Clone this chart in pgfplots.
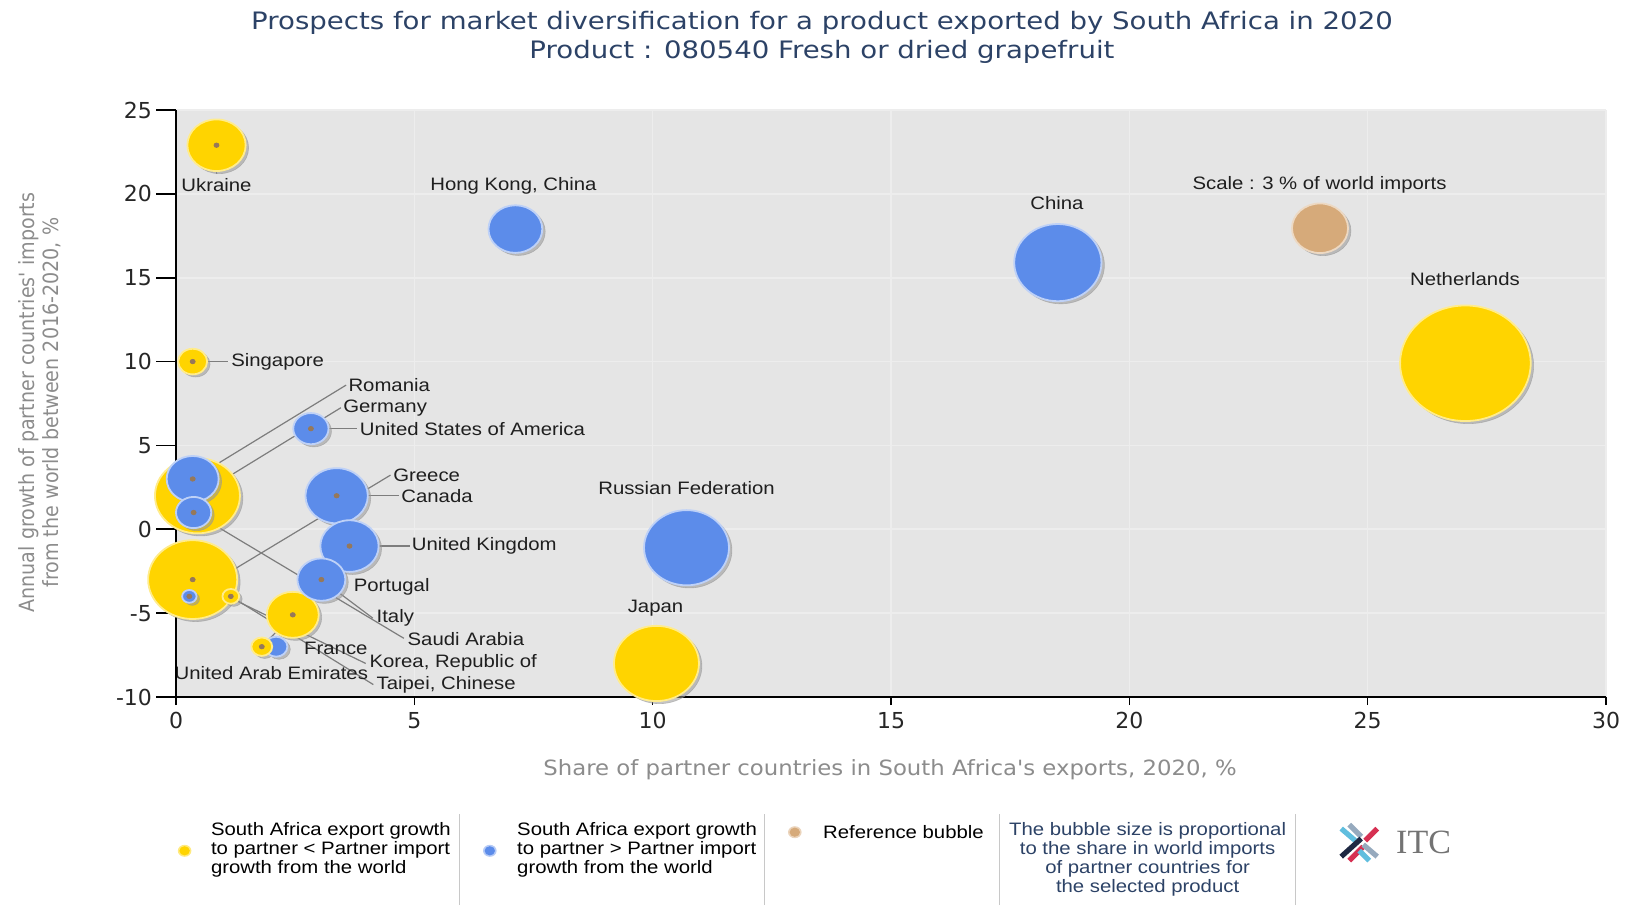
\documentclass[border=0pt]{standalone}
\usepackage{pgfplots}
\pgfplotsset{compat=1.18}
\usepackage{pgfplotstable}
\usepackage{fontspec}
\setmainfont[FakeStretch=1.13]{Liberation Sans}
\newfontfamily\tfont{DejaVu Sans}
\newfontfamily\ttlfont[FakeStretch=1.15]{DejaVu Sans}
\newfontfamily\xfont[FakeStretch=1.085]{DejaVu Sans}
\newfontfamily\yfont[FakeStretch=0.91]{DejaVu Sans}
\newfontfamily\seriffont{Liberation Serif}

\definecolor{byel}{RGB}{255,212,0}
\definecolor{bblue}{RGB}{92,140,234}
\definecolor{btan}{RGB}{214,170,122}
\definecolor{plotbg}{RGB}{229,229,229}
\definecolor{gridc}{RGB}{237,237,237}
\definecolor{titlec}{RGB}{44,66,102}
\definecolor{axlab}{RGB}{140,140,140}
\definecolor{leader}{RGB}{125,125,125}
\definecolor{dotc}{RGB}{150,120,90}
\definecolor{sepc}{RGB}{200,200,200}
\definecolor{shadc}{RGB}{150,150,150}
\definecolor{itcblue}{RGB}{96,190,222}
\definecolor{itcred}{RGB}{214,48,82}
\definecolor{itcnavy}{RGB}{30,40,66}
\definecolor{itcgray}{RGB}{150,170,190}

% x y r(pt, vertical radius) class
\pgfplotstableread{
x y r c
27.05 9.9 28.9 y
0.35 -3.0 19.7 y
18.5 15.9 19.3 b
0.45 2.0 18.8 y
10.71 -1.1 18.8 b
10.08 -8.0 18.8 y
}\bubA
\pgfplotstableread{
x y r c
3.37 2.0 13.8 b
0.85 22.9 12.9 y
3.64 -1.0 12.9 b
24.0 17.95 12.4 r
7.12 17.9 11.9 b
0.35 3.0 11.5 b
2.45 -5.1 11.5 y
3.05 -3.0 10.6 b
}\bubB
\pgfplotstableread{
x y r c
2.83 6.0 7.8 b
0.37 1.0 7.8 b
0.35 10.0 6.4 y
2.1 -7.0 5.0 b
1.8 -7.0 4.6 y
1.15 -4.0 3.7 y
0.28 -4.0 3.2 b
}\bubC
\pgfplotstableread{
x y
0.35 -3.0
0.45 2.0
}\dotA
\pgfplotstableread{
x y
3.37 2.0
0.85 22.9
3.64 -1.0
0.35 3.0
2.45 -5.1
3.05 -3.0
}\dotB
\pgfplotstableread{
x y
2.83 6.0
0.37 1.0
0.35 10.0
1.8 -7.0
1.15 -4.0
0.28 -4.0
}\dotC

\pgfplotsset{
  bubble/.style={only marks, scatter, scatter src=explicit symbolic,
    scatter/classes={
      y={mark=*, draw=byel!45!white, fill=byel},
      b={mark=*, draw=bblue!40!white, fill=bblue},
      r={mark=*, draw=btan!45!white, fill=btan}},
    visualization depends on={\thisrow{r} \as \rad},
    scatter/@pre marker code/.append style={/tikz/mark size=\rad},
    mark options={xscale=1.13, line width=0.9pt}},
  shadow/.style={only marks, scatter, point meta=\thisrow{r},
    scatter/use mapped color={draw=shadc, fill=shadc},
    visualization depends on={\thisrow{r} \as \rad},
    scatter/@pre marker code/.append style={/tikz/mark size=\rad},
    mark=*, mark options={xscale=1.13, xshift=1.3pt, yshift=-1.3pt, opacity=0.55, line width=0.3pt}},
  cdot/.style={only marks, mark=*, mark size=1.1pt, color=dotc, mark options={xscale=1.13}},
}
\tikzset{
  ld/.style={draw=leader, line width=0.6pt},
  lab/.style={font=\fontsize{9}{10}\selectfont, text=black!88, inner sep=0.5pt},
}

\begin{document}
\begin{tikzpicture}
\useasboundingbox (0,0) rectangle (813.5pt,453.5pt);
% title
\node[font=\ttlfont\fontsize{12}{14.5}\selectfont, text=titlec, align=center] at (411pt,434.8pt)
  {Prospects for market diversification for a product exported by South Africa in 2020\\Product : 080540 Fresh or dried grapefruit};
\begin{axis}[
  at={(88pt,105pt)}, anchor=south west,
  width=715pt, height=293.5pt, scale only axis,
  xmin=0, xmax=30, ymin=-10, ymax=25,
  xtick={0,5,...,30}, ytick={-10,-5,...,25},
  axis x line*=bottom, axis y line*=left,
  axis line style={black, line width=0.8pt, -},
  tick align=outside,
  major tick length=4pt,
  ytick style={black, line width=0.8pt, /pgfplots/major tick length=10pt},
  xtick style={black, line width=0.8pt},
  yticklabel style={xshift=-4.5pt},
  tick label style={font=\tfont\fontsize{11}{13}\selectfont, text=black!85},
  /pgf/number format/assume math mode=true,
  grid=major, major grid style={gridc, line width=0.8pt},
  axis background/.style={fill=plotbg},
  clip=false,
]
% group A (largest)
\addplot[shadow] table[x=x,y=y] {\bubA};
\addplot[bubble] table[x=x,y=y,meta=c] {\bubA};
\draw[ld] (axis cs:0.35,-3.0) -- (axis cs:3.98,-8.0);
\draw[ld] (axis cs:0.45,2.0) -- (axis cs:3.46,7.25);
\addplot[cdot] table[x=x,y=y] {\dotA};
% group B
\addplot[shadow] table[x=x,y=y] {\bubB};
\addplot[bubble] table[x=x,y=y,meta=c] {\bubB};
\draw[ld] (axis cs:3.37,2.0) -- (axis cs:4.68,2.0);
\draw[ld] (axis cs:0.85,22.9) -- (axis cs:0.85,21.2);
\draw[ld] (axis cs:3.64,-1.0) -- (axis cs:4.9,-1.0);
\draw[ld] (axis cs:0.35,3.0) -- (axis cs:3.57,8.6);
\draw[ld] (axis cs:3.05,-3.0) -- (axis cs:4.13,-5.3);
\addplot[cdot] table[x=x,y=y] {\dotB};
% group C
\addplot[shadow] table[x=x,y=y] {\bubC};
\addplot[bubble] table[x=x,y=y,meta=c] {\bubC};
\draw[ld] (axis cs:2.83,6.0) -- (axis cs:3.8,6.0);
\draw[ld] (axis cs:0.37,1.0) -- (axis cs:4.78,-6.5);
\draw[ld] (axis cs:0.35,10.0) -- (axis cs:1.1,10.0);
\draw[ld] (axis cs:1.8,-7.0) -- (axis cs:2.45,-5.1);
\draw[ld] (axis cs:1.15,-4.0) -- (axis cs:4.14,-9.26);
\draw[ld] (axis cs:0.28,-4.0) -- (axis cs:4.5,3.23);
\addplot[cdot] table[x=x,y=y] {\dotC};
% labels
\node[lab] at (axis cs:0.85,20.55) {Ukraine};
\node[lab] at (axis cs:7.08,20.45) {Hong Kong, China};
\node[lab] at (axis cs:18.48,19.45) {China};
\node[lab] at (axis cs:23.99,20.55) {Scale : 3 \% of world imports};
\node[lab] at (axis cs:27.04,14.9) {Netherlands};
\node[lab] at (axis cs:10.71,2.45) {Russian Federation};
\node[lab] at (axis cs:10.06,-4.7) {Japan};
\node[lab,anchor=west] at (axis cs:1.13,10.0) {Singapore};
\node[lab,anchor=west] at (axis cs:3.59,8.6) {Romania};
\node[lab,anchor=west] at (axis cs:3.48,7.25) {Germany};
\node[lab,anchor=west] at (axis cs:3.83,6.0) {United States of America};
\node[lab,anchor=west] at (axis cs:4.53,3.23) {Greece};
\node[lab,anchor=west] at (axis cs:4.70,2.0) {Canada};
\node[lab,anchor=west] at (axis cs:4.92,-0.97) {United Kingdom};
\node[lab,anchor=west] at (axis cs:3.70,-3.45) {Portugal};
\node[lab,anchor=west] at (axis cs:4.18,-5.3) {Italy};
\node[lab,anchor=west] at (axis cs:4.83,-6.54) {Saudi Arabia};
\node[lab,anchor=west] at (axis cs:2.66,-7.1) {France};
\node[lab,anchor=west] at (axis cs:4.03,-7.96) {Korea, Republic of};
\node[lab,anchor=west] at (axis cs:4.18,-9.26) {Taipei, Chinese};
\node[lab] at (axis cs:2.0,-8.58) {United Arab Emirates};
% axis lines on top of bubbles
\draw[black, line width=0.8pt] (rel axis cs:0,0) -- (rel axis cs:0,1);
\draw[black, line width=0.8pt] (rel axis cs:0,0) -- (rel axis cs:1,0);
\end{axis}
% axis titles
\node[font=\xfont\fontsize{10.5}{12}\selectfont, text=axlab] at (445pt,68.5pt)
  {Share of partner countries in South Africa's exports, 2020, \%};
\node[font=\yfont\fontsize{10.5}{12}\selectfont, text=axlab, align=center, rotate=90] at (19.7pt,252.2pt)
  {Annual growth of partner countries' imports\\from the world between 2016-2020, \%};
% legend
\begin{scope}[font=\fontsize{9}{9.6}\selectfont]
\fill[byel!50!white] (92.3pt,28.1pt) ellipse (3.4pt and 3pt);
\fill[byel] (92.3pt,28.1pt) ellipse (2.6pt and 2.3pt);
\node[anchor=west, align=left, inner sep=0pt] at (105.3pt,28.6pt)
  {South Africa export growth\\to partner < Partner import\\growth from the world};
\draw[sepc, line width=0.5pt] (229.8pt,1pt) -- (229.8pt,46.3pt);
\fill[bblue!45!white] (244.9pt,28.1pt) ellipse (3.4pt and 3pt);
\fill[bblue] (244.9pt,28.1pt) ellipse (2.6pt and 2.3pt);
\node[anchor=west, align=left, inner sep=0pt] at (258.4pt,28.6pt)
  {South Africa export growth\\to partner > Partner import\\growth from the world};
\draw[sepc, line width=0.5pt] (382.4pt,1pt) -- (382.4pt,46.3pt);
\fill[btan!50!white] (397.4pt,37.4pt) ellipse (3.4pt and 3pt);
\fill[btan] (397.4pt,37.4pt) ellipse (2.6pt and 2.3pt);
\node[anchor=west, inner sep=0pt] at (411.4pt,37.4pt) {Reference bubble};
\draw[sepc, line width=0.5pt] (499.6pt,1pt) -- (499.6pt,46.3pt);
\node[align=center, inner sep=0pt, text=titlec] at (573.8pt,23.9pt)
  {The bubble size is proportional\\to the share in world imports\\of partner countries for\\the selected product};
\draw[sepc, line width=0.5pt] (647.5pt,1pt) -- (647.5pt,46.3pt);
\end{scope}
% ITC logo
\begin{scope}[shift={(679.6pt,32.2pt)}, line cap=butt]
\draw[itcblue, line width=2.6pt] (-9pt,7pt) -- (-2pt,1pt);
\draw[itcgray, line width=2.6pt] (-5pt,9pt) -- (1pt,3pt);
\draw[itcred, line width=2.6pt] (9pt,7pt) -- (3pt,1pt);
\draw[itcnavy, line width=2.6pt] (-9pt,-7pt) -- (1pt,2pt);
\draw[itcred, line width=2.6pt] (-5pt,-9pt) -- (2pt,-2pt);
\draw[itcgray, line width=2.6pt] (9pt,-7pt) -- (2pt,-1pt);
\draw[itcblue, line width=2.6pt] (5pt,-9pt) -- (0pt,-4pt);
\end{scope}
\node[font=\seriffont\fontsize{17}{18}\selectfont, text=black!55] at (711.8pt,32.2pt) {ITC};
\end{tikzpicture}
\end{document}
